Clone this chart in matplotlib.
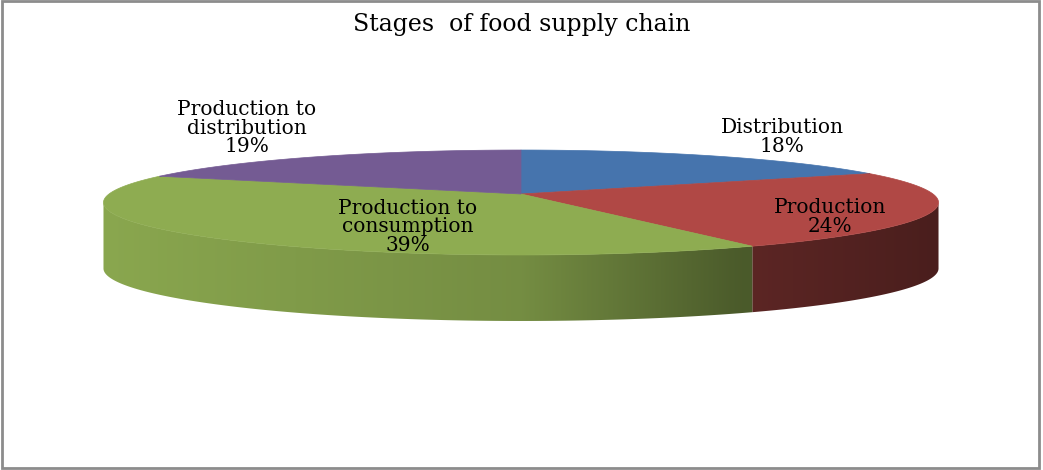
import numpy as np
import matplotlib.pyplot as plt
from matplotlib.patches import Polygon, Rectangle
from matplotlib.colors import to_rgb

# chart data
labels = ["Distribution", "Production", "Production to\nconsumption", "Production to\ndistribution"]
values = [18, 24, 39, 19]
colors = ["#4674AD", "#B04845", "#8EAC51", "#745B93"]
title = "Stages  of food supply chain"

# label anchor points (pixels) for each slice
label_xy = [(782, 137), (830, 217), (408, 227), (247, 128)]

# pie geometry in pixels (simple perspective ellipse)
cx, cy = 521, 194
R, B, k = 412, 51.1, 0.162
D = 66  # thickness of the side wall

W, H = 1043, 470
fig = plt.figure(figsize=(W / 100, H / 100), dpi=100)
ax = fig.add_axes([0, 0, 1, 1])


def project(t, drop=0.0):
    u, v = np.sin(t), np.cos(t)
    w = 1 + k * v
    return cx + R * u / w, cy - B * v / w + drop


# shading of the side wall: light on the left, dark on the right
xl, xr = cx - 417, cx + 417
shade_s = [0, 0.5, 0.76, 1.0]
shade_f = [0.97, 0.82, 0.53, 0.42]

fracs = np.array(values) / np.sum(values)
edges = np.concatenate([[0], np.cumsum(fracs)]) * 2 * np.pi
t_vis0 = np.arccos(-k)
t_vis1 = 2 * np.pi - t_vis0

# side walls
for i, col in enumerate(colors):
    a, b = max(edges[i], t_vis0), min(edges[i + 1], t_vis1)
    if b <= a:
        continue
    ts = np.linspace(a, b, 200)
    tx, ty = project(ts)
    bx, by = project(ts[::-1], D)
    pts = np.column_stack([np.concatenate([tx, bx]), np.concatenate([ty, by])])
    poly = Polygon(pts, closed=True, fc="none", ec="none")
    ax.add_patch(poly)
    xs = np.arange(W)
    s = np.clip((xs - xl) / (xr - xl), 0, 1)
    f = np.interp(s, shade_s, shade_f)
    img = np.array(to_rgb(col))[None, None, :] * f[None, :, None]
    im = ax.imshow(img, extent=(0, W, H, 0), aspect="auto",
                   interpolation="bilinear", zorder=2)
    im.set_clip_path(poly)

# top faces
for i, col in enumerate(colors):
    ts = np.linspace(edges[i], edges[i + 1], 200)
    x, y = project(ts)
    pts = np.column_stack([np.concatenate([[cx], x]), np.concatenate([[cy], y])])
    ax.add_patch(Polygon(pts, closed=True, fc=col, ec=col, lw=0.5, zorder=3))

# data labels
for lab, v, (lx, ly) in zip(labels, values, label_xy):
    ax.text(lx, ly, f"{lab}\n{v}%", ha="center", va="center", fontsize=14.5,
            family="DejaVu Serif", linespacing=0.97, color="black", zorder=5)

ax.text(522, 24, title, ha="center", va="center", fontsize=17,
        family="DejaVu Serif", color="black", zorder=5)

# chart border
ax.add_patch(Rectangle((2, 1), 1037, 467, fc="none", ec="#8c8c8c", lw=2, zorder=6))

ax.set_xlim(0, W)
ax.set_ylim(H, 0)
ax.axis("off")

fig.savefig("out.png", dpi=100)
